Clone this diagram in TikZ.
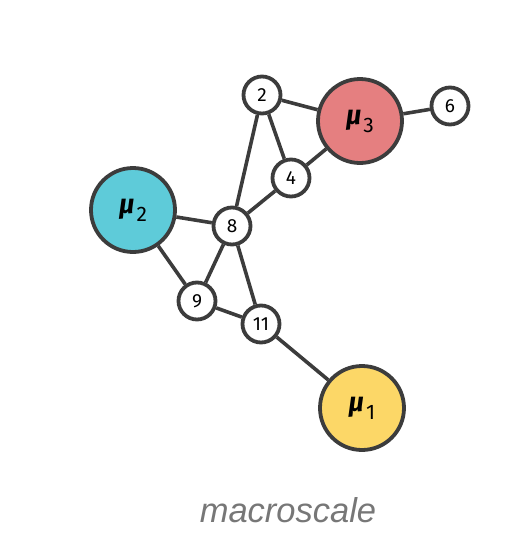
\documentclass[tikz,border=0pt]{standalone}
\usepackage{fontspec}
\setmainfont{Fira Sans}
\newfontfamily\captionfont{Liberation Sans}
\usetikzlibrary{positioning, backgrounds}
\usepackage{xcolor}
\definecolor{edgegray}{HTML}{3C3C3C}
\definecolor{redmu}{HTML}{E57F80}
\definecolor{bluemu}{HTML}{5ECBD9}
\definecolor{yellowmu}{HTML}{FCD767}
\definecolor{captiongray}{HTML}{777777}
\newcommand{\mulabel}[1]{\bfseries\itshape\fontsize{27}{27}\selectfont μ\kern2pt\raisebox{-8pt}{\upshape\mdseries\fontsize{21}{21}\selectfont #1}}

\begin{document}
\begin{tikzpicture}[x=1pt, y=-1pt,
  small/.style={circle, draw=edgegray, line width=3.8pt, fill=white, minimum size=37pt, inner sep=0pt, font=\fontsize{19}{19}\selectfont},
  big/.style={circle, draw=edgegray, line width=3.8pt, minimum size=84pt, inner sep=0pt},
  link/.style={draw=edgegray, line width=3.6pt}]
\useasboundingbox (0,0) rectangle (508,542);
% clusters
\node[big, fill=redmu] (MU3) at (360, 121) {\mulabel{3}};
\node[big, fill=bluemu] (MU2) at (133, 210) {\mulabel{2}};
\node[big, fill=yellowmu] (MU1) at (362, 408) {\mulabel{1}};
% vertices
\node[small] (N2) at (262, 95) {2};
\node[small] (N6) at (450, 106) {6};
\node[small] (N4) at (291, 178) {4};
\node[small] (N8) at (232, 226) {8};
\node[small] (N9) at (197, 301) {9};
\node[small] (N11) at (261, 324) {11};
% caption
\node[font=\captionfont\itshape\fontsize{34.5}{34.5}\selectfont, text=captiongray] (CAP) at (288, 510) {macroscale};

% edges
\begin{scope}[on background layer]
\draw[link] (N2) -- (MU3);
\draw[link] (MU3) -- (N6);
\draw[link] (N2) -- (N4);
\draw[link] (N4) -- (MU3);
\draw[link] (N2) -- (N8);
\draw[link] (N4) -- (N8);
\draw[link] (MU2) -- (N8);
\draw[link] (MU2) -- (N9);
\draw[link] (N9) -- (N8);
\draw[link] (N8) -- (N11);
\draw[link] (N9) -- (N11);
\draw[link] (N11) -- (MU1);
\end{scope}
\end{tikzpicture}
\end{document}
